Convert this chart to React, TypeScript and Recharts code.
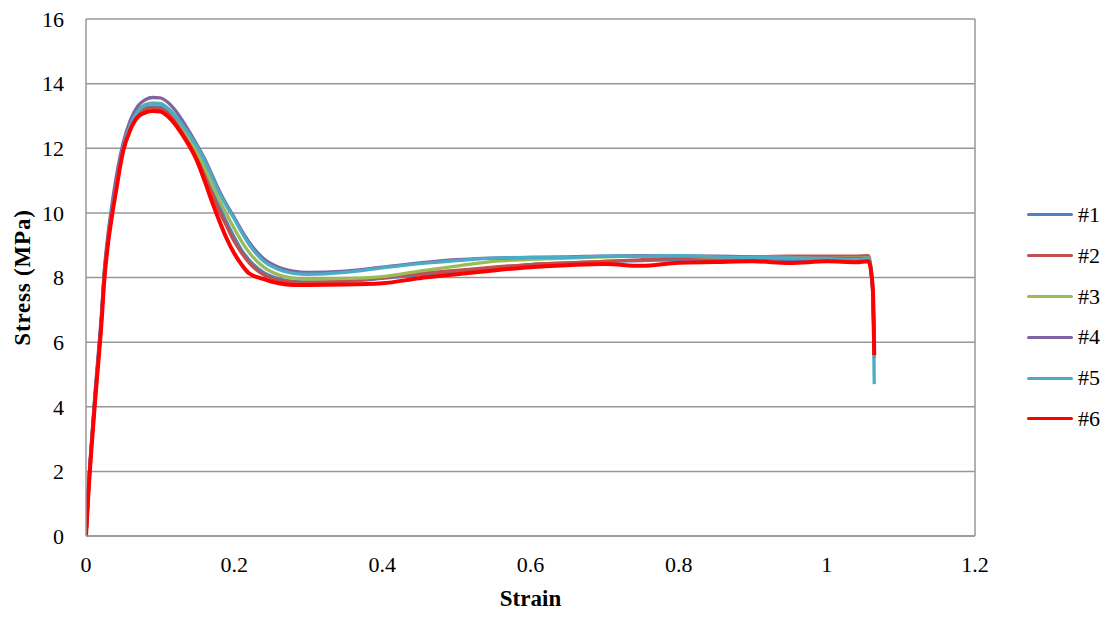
import { LineChart, Line, XAxis, YAxis, CartesianGrid, Legend, ReferenceLine } from 'recharts';

const FONT = '"Liberation Serif", "Times New Roman", serif';

const strain = [
  0, 0.004, 0.008, 0.012, 0.016, 0.02, 0.025, 0.03, 0.035, 0.04,
  0.05, 0.06, 0.07, 0.08, 0.09, 0.1, 0.11, 0.12, 0.13, 0.14, 0.15, 0.16, 0.17, 0.18, 0.19, 0.2,
  0.21, 0.22, 0.24, 0.26, 0.28, 0.3,
  0.35, 0.4, 0.45, 0.5, 0.55, 0.6, 0.65, 0.7, 0.75, 0.8, 0.85, 0.9, 0.95, 1.0,
  1.04, 1.056, 1.062, 1.064,
];

const s1 = [
  0, 1.7, 3.0, 4.25, 5.35, 6.45, 8.15, 9.2, 10.05, 10.8,
  11.95, 12.68, 13.08, 13.24, 13.28, 13.27, 13.14, 12.9, 12.57, 12.2, 11.78, 11.28, 10.72, 10.2, 9.7, 9.25,
  8.85, 8.55, 8.15, 7.96, 7.88, 7.86,
  7.88, 7.97, 8.08, 8.2, 8.3, 8.4, 8.45, 8.5, 8.52, 8.55, 8.56, 8.58, 8.56, 8.55,
  8.55, 8.57, 7.6, 5.6,
];
const s2 = [
  0, 1.7, 3.0, 4.2, 5.3, 6.4, 8.1, 9.15, 10.0, 10.75,
  11.9, 12.63, 13.04, 13.2, 13.25, 13.23, 13.09, 12.84, 12.5, 12.12, 11.7, 11.18, 10.6, 10.05, 9.58, 9.12,
  8.76, 8.46, 8.08, 7.92, 7.86, 7.85,
  7.9, 8.0, 8.12, 8.22, 8.32, 8.4, 8.45, 8.5, 8.55, 8.6, 8.62, 8.64, 8.66, 8.66,
  8.66, 8.68, 7.6, 5.6,
];
const s3 = [
  0, 1.7, 3.0, 4.25, 5.35, 6.45, 8.2, 9.25, 10.1, 10.85,
  12.0, 12.73, 13.16, 13.35, 13.4, 13.39, 13.25, 13.0, 12.67, 12.3, 11.9, 11.42, 10.88, 10.4, 9.95, 9.52,
  9.12, 8.78, 8.32, 8.08, 7.98, 7.95,
  7.97, 8.03, 8.2, 8.35, 8.5, 8.56, 8.6, 8.64, 8.66, 8.66, 8.64, 8.64, 8.62, 8.6,
  8.6, 8.62, 7.6, 5.6,
];
const s4 = [
  0, 1.8, 3.1, 4.4, 5.5, 6.6, 8.3, 9.4, 10.25, 11.0,
  12.15, 12.88, 13.31, 13.5, 13.57, 13.56, 13.43, 13.19, 12.86, 12.49, 12.1, 11.68, 11.18, 10.68, 10.25, 9.86,
  9.46, 9.1, 8.58, 8.32, 8.2, 8.16,
  8.2, 8.32, 8.45, 8.55, 8.6, 8.62, 8.64, 8.66, 8.68, 8.66, 8.66, 8.64, 8.6, 8.6,
  8.58, 8.6, 7.5, 5.5,
];
const s5 = [
  0, 1.65, 2.95, 4.2, 5.3, 6.4, 8.15, 9.2, 10.05, 10.75,
  12.0, 12.73, 13.15, 13.33, 13.38, 13.37, 13.24, 13.02, 12.73, 12.4, 12.05, 11.62, 11.12, 10.62, 10.2, 9.82,
  9.4, 9.03, 8.5, 8.25, 8.13, 8.1,
  8.16, 8.3, 8.43, 8.52, 8.6, 8.62, 8.62, 8.66, 8.66, 8.68, 8.64, 8.62, 8.6, 8.58,
  8.56, 8.58, 7.6, 4.7,
];
const s6 = [
  0, 1.6, 2.9, 4.1, 5.2, 6.3, 8.0, 9.1, 9.9, 10.6,
  11.9, 12.58, 12.97, 13.1, 13.15, 13.14, 13.0, 12.75, 12.42, 12.05, 11.6, 11.0, 10.35, 9.75, 9.2, 8.75,
  8.4, 8.13, 7.95, 7.82, 7.77, 7.77,
  7.78, 7.82, 7.98, 8.1, 8.22, 8.32, 8.38, 8.42, 8.36, 8.46, 8.48, 8.5, 8.45, 8.5,
  8.47, 8.5, 7.7, 5.6,
];

const seriesNames = ['#1', '#2', '#3', '#4', '#5', '#6'];
const seriesColors = ['#4F81BD', '#C0504D', '#9BBB59', '#8064A2', '#4BACC6', '#FF0000'];
const xTicks = [0, 0.2, 0.4, 0.6, 0.8, 1, 1.2];
const yTicks = [0, 2, 4, 6, 8, 10, 12, 14, 16];

const stressSets = [s1, s2, s3, s4, s5, s6];
const series = stressSets.map((vals, i) => ({
  name: seriesNames[i],
  color: seriesColors[i],
  points: strain.map((x, j) => ({ x, y: vals[j] })),
}));

const gridColor = '#979797';

function LegendBox() {
  return (
    <div style={{ width: 135, paddingLeft: 52, boxSizing: 'border-box', fontFamily: FONT, fontSize: 22, color: '#000' }}>
      {series.map((s) => (
        <div key={s.name} style={{ display: 'flex', alignItems: 'center', height: 40.8 }}>
          <div style={{ width: 46, height: 3, background: s.color, borderRadius: 1.5, marginRight: 5 }} />
          <span>{s.name}</span>
        </div>
      ))}
    </div>
  );
}

export default function App() {
  return (
    <div style={{ position: 'absolute', left: 0, top: 0, width: 1110, height: 623, background: '#fff' }}>
      <LineChart width={1110} height={623} margin={{ top: 19, right: 0, bottom: 0, left: 0 }}>
        <CartesianGrid horizontal vertical={false} stroke={gridColor} strokeWidth={1.5} />
        <XAxis
          type="number"
          dataKey="x"
          domain={[0, 1.2]}
          ticks={xTicks}
          allowDataOverflow
          height={87}
          tickSize={0}
          tickMargin={20}
          axisLine={{ stroke: gridColor, strokeWidth: 1.5 }}
          tick={{ fill: '#000', fontSize: 22, fontFamily: FONT }}
          label={{
            value: 'Strain',
            position: 'insideBottom',
            offset: 17,
            style: { fill: '#000', fontSize: 23, fontWeight: 'bold', fontFamily: FONT },
          }}
        />
        <YAxis
          type="number"
          domain={[0, 16]}
          ticks={yTicks}
          width={86}
          tickSize={0}
          tickMargin={22}
          axisLine={{ stroke: gridColor, strokeWidth: 1.5 }}
          tick={{ fill: '#000', fontSize: 22, fontFamily: FONT }}
          label={{
            value: 'Stress (MPa)',
            angle: -90,
            position: 'insideLeft',
            offset: 22,
            style: { fill: '#000', fontSize: 23, fontWeight: 'bold', fontFamily: FONT, textAnchor: 'middle', letterSpacing: 0.8 },
          }}
        />
        <ReferenceLine x={1.2} stroke={gridColor} strokeWidth={1.5} />
        <Legend
          layout="vertical"
          align="right"
          verticalAlign="middle"
          content={<LegendBox />}
          wrapperStyle={{ top: 194.6, right: 0 }}
        />
        {series.map((s) => (
          <Line
            key={s.name}
            data={s.points}
            dataKey="y"
            name={s.name}
            type="monotone"
            stroke={s.color}
            strokeWidth={s.name === '#6' ? 4 : 3.3}
            dot={false}
            activeDot={false}
            isAnimationActive={false}
          />
        ))}
      </LineChart>
    </div>
  );
}
